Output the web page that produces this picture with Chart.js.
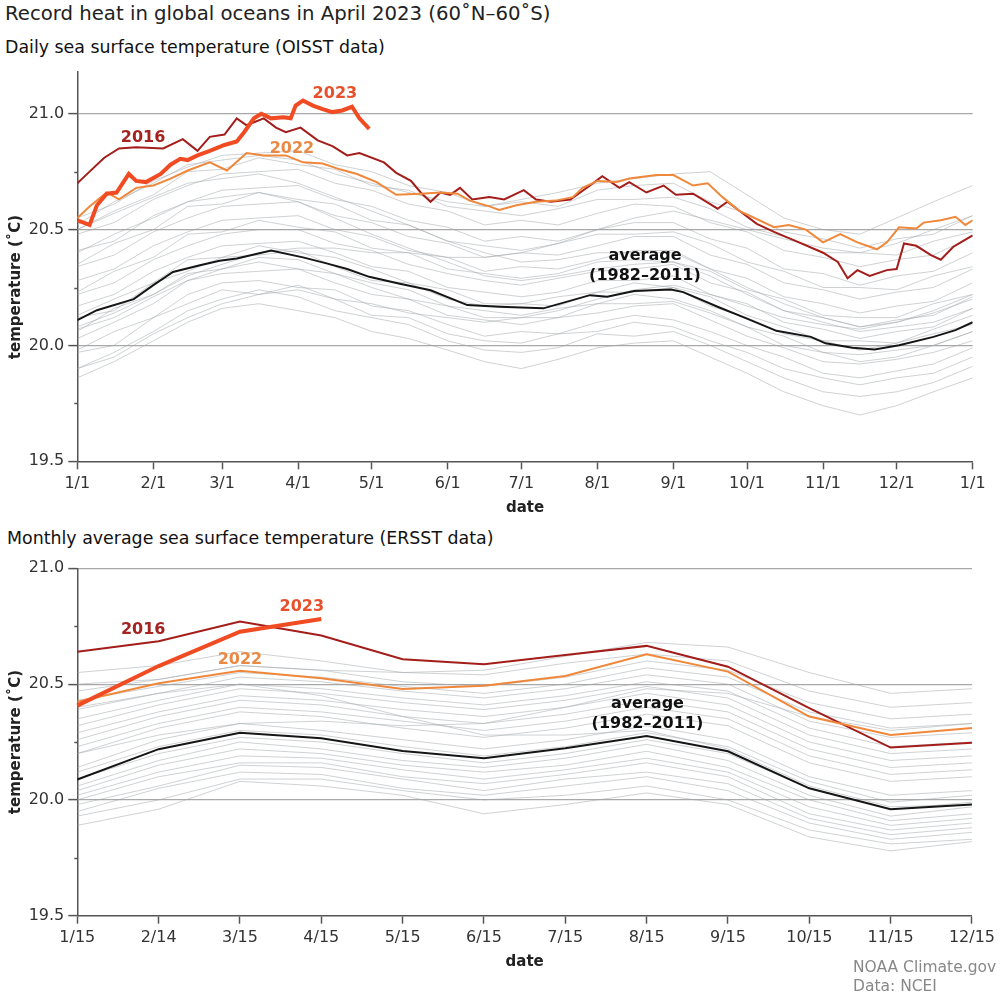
<!DOCTYPE html>
<html>
<head>
<meta charset="utf-8">
<script src="https://cdn.jsdelivr.net/npm/chart.js@4.4.0/dist/chart.umd.min.js"></script>
<style>
  html, body { margin: 0; padding: 0; background: #fff; }
  body { width: 1000px; height: 1000px; position: relative; overflow: hidden;
         font-family: "DejaVu Sans", sans-serif; color: #222; }
  .txt { position: absolute; white-space: nowrap; }
  #title { left: 5px; top: 0; font-size: 19.7px; line-height: 28px; color: #222; }
  .sub { font-size: 17.4px; line-height: 20px; color: #111; }
  #sub1 { left: 5px; top: 37px; }
  #sub2 { left: 7px; top: 528px; }
  .ytitle { font-size: 15px; font-weight: bold; color: #222; transform: translate(-50%, -50%) rotate(-90deg); }
  #ytitle1 { left: 15px; top: 287px; }
  #ytitle2 { left: 15px; top: 742px; }
  .credit { font-size: 15.5px; line-height: 19px; color: #888; left: 853px; }
  #credit1 { top: 958px; }
  #credit2 { top: 977px; }
  canvas { position: absolute; left: 0; }
  #dailyChart { top: 0; }
  #monthlyChart { top: 540px; }
</style>
</head>
<body>
<div class="txt" id="title">Record heat in global oceans in April 2023 (60˚N–60˚S)</div>
<div class="txt sub" id="sub1">Daily sea surface temperature (OISST data)</div>
<div class="txt sub" id="sub2">Monthly average sea surface temperature (ERSST data)</div>
<canvas id="dailyChart" width="1000" height="530"></canvas>
<canvas id="monthlyChart" width="1000" height="445"></canvas>
<div class="txt ytitle" id="ytitle1">temperature (˚C)</div>
<div class="txt ytitle" id="ytitle2">temperature (˚C)</div>
<div class="txt credit" id="credit1">NOAA Climate.gov</div>
<div class="txt credit" id="credit2">Data: NCEI</div>

<script>
/* ===========================================
                  DATA: DAILY (OISST)
=========================================== */
const monthStartDays = [0, 31, 59, 90, 120, 151, 181, 212, 243, 273, 304, 334, 365];
const monthStartLabels = ["1/1", "2/1", "3/1", "4/1", "5/1", "6/1", "7/1", "8/1", "9/1", "10/1", "11/1", "12/1", "1/1"];

const days2016 = [0, 5, 11, 17, 24, 35, 43, 49, 54, 60, 65, 69, 76, 81, 85, 91, 98, 104, 110, 115, 125, 130, 136, 140, 144, 148, 152, 156, 161, 168, 174, 179, 182, 187, 193, 201, 209, 214, 221, 225, 232, 239, 244, 251, 258, 261, 265, 270, 277, 284, 293, 304, 310, 314, 318, 323, 330, 334, 337, 342, 348, 352, 357, 361, 365];
const daily2016 = [20.70, 20.75, 20.81, 20.85, 20.855, 20.85, 20.89, 20.84, 20.90, 20.91, 20.98, 20.95, 20.98, 20.94, 20.92, 20.94, 20.885, 20.86, 20.82, 20.83, 20.79, 20.745, 20.71, 20.66, 20.62, 20.66, 20.65, 20.68, 20.63, 20.64, 20.63, 20.655, 20.67, 20.63, 20.62, 20.63, 20.69, 20.73, 20.68, 20.705, 20.66, 20.69, 20.65, 20.655, 20.61, 20.59, 20.62, 20.58, 20.525, 20.49, 20.45, 20.40, 20.36, 20.29, 20.325, 20.30, 20.325, 20.33, 20.44, 20.43, 20.39, 20.37, 20.425, 20.45, 20.475];

const days2022 = [0, 5, 12, 17, 24, 31, 38, 45, 54, 61, 69, 76, 85, 92, 100, 107, 114, 122, 130, 140, 148, 155, 160, 168, 172, 179, 187, 195, 202, 206, 212, 220, 225, 236, 243, 251, 257, 263, 270, 277, 284, 290, 297, 304, 311, 318, 326, 330, 335, 342, 345, 352, 358, 362, 365];
const daily2022 = [20.55, 20.60, 20.66, 20.63, 20.68, 20.69, 20.72, 20.755, 20.79, 20.755, 20.83, 20.82, 20.82, 20.79, 20.785, 20.76, 20.74, 20.705, 20.65, 20.655, 20.66, 20.655, 20.625, 20.60, 20.585, 20.605, 20.62, 20.625, 20.64, 20.68, 20.71, 20.705, 20.72, 20.735, 20.735, 20.69, 20.70, 20.64, 20.58, 20.545, 20.51, 20.52, 20.50, 20.445, 20.48, 20.445, 20.415, 20.445, 20.51, 20.505, 20.53, 20.54, 20.555, 20.52, 20.54];

const days2023 = [0, 5, 8, 12, 16, 21, 24, 28, 34, 38, 42, 45, 49, 54, 60, 65, 68, 72, 75, 79, 84, 87, 89, 92, 96, 100, 104, 108, 112, 115, 119];
const daily2023 = [20.54, 20.52, 20.605, 20.655, 20.66, 20.74, 20.71, 20.705, 20.74, 20.78, 20.805, 20.80, 20.82, 20.84, 20.865, 20.88, 20.92, 20.98, 21.00, 20.98, 20.985, 20.98, 21.035, 21.057, 21.035, 21.02, 21.007, 21.014, 21.03, 20.98, 20.935];

const daysAverage = [0, 8, 23, 31, 39, 50, 58, 65, 79, 92, 102, 110, 119, 131, 144, 159, 172, 190, 209, 216, 227, 242, 247, 261, 273, 285, 299, 305, 316, 325, 335, 349, 358, 365];
const dailyAverage = [20.109, 20.152, 20.20, 20.26, 20.317, 20.346, 20.365, 20.375, 20.41, 20.38, 20.353, 20.33, 20.296, 20.267, 20.238, 20.174, 20.167, 20.16, 20.217, 20.21, 20.235, 20.241, 20.23, 20.167, 20.116, 20.063, 20.037, 20.009, 19.99, 19.983, 20.001, 20.037, 20.066, 20.10];

// other years (1982-2021), read roughly every half month
const greyDays = [0, 15, 31, 45, 59, 74, 90, 105, 120, 135, 151, 166, 181, 196, 212, 227, 243, 258, 273, 288, 304, 319, 334, 349, 365];
const dailyGreyYears = [
  [19.86, 19.93, 20.02, 20.10, 20.16, 20.18, 20.15, 20.12, 20.06, 20.03, 19.98, 19.93, 19.90, 19.94, 19.99, 20.01, 20.02, 19.95, 19.88, 19.80, 19.74, 19.70, 19.74, 19.80, 19.86],
  [19.90, 19.97, 20.06, 20.15, 20.20, 20.24, 20.21, 20.15, 20.12, 20.09, 20.02, 19.98, 19.97, 19.99, 20.05, 20.04, 20.06, 20.00, 19.93, 19.86, 19.80, 19.78, 19.80, 19.84, 19.91],
  [19.97, 20.00, 20.12, 20.18, 20.24, 20.22, 20.26, 20.20, 20.13, 20.12, 20.05, 20.02, 20.01, 20.05, 20.06, 20.10, 20.08, 20.02, 19.97, 19.90, 19.86, 19.83, 19.86, 19.88, 19.95],
  [19.98, 20.06, 20.12, 20.22, 20.27, 20.28, 20.25, 20.24, 20.17, 20.15, 20.09, 20.04, 20.06, 20.05, 20.10, 20.13, 20.11, 20.06, 20.00, 19.95, 19.88, 19.86, 19.89, 19.92, 19.99],
  [19.90, 19.95, 20.05, 20.12, 20.18, 20.22, 20.24, 20.20, 20.18, 20.14, 20.12, 20.10, 20.12, 20.15, 20.20, 20.24, 20.26, 20.22, 20.17, 20.12, 20.09, 20.07, 20.10, 20.15, 20.22],
  [20.03, 20.10, 20.18, 20.28, 20.31, 20.32, 20.33, 20.27, 20.22, 20.20, 20.13, 20.11, 20.09, 20.12, 20.14, 20.17, 20.18, 20.11, 20.04, 19.99, 19.93, 19.92, 19.94, 19.97, 20.02],
  [20.07, 20.12, 20.21, 20.28, 20.33, 20.36, 20.33, 20.31, 20.25, 20.20, 20.17, 20.12, 20.12, 20.12, 20.18, 20.18, 20.19, 20.14, 20.08, 20.00, 19.97, 19.93, 19.95, 20.00, 20.06],
  [20.06, 20.16, 20.22, 20.31, 20.33, 20.38, 20.37, 20.31, 20.27, 20.24, 20.17, 20.15, 20.13, 20.16, 20.18, 20.22, 20.20, 20.15, 20.08, 20.04, 19.97, 19.96, 19.98, 20.00, 20.06],
  [20.12, 20.15, 20.27, 20.32, 20.38, 20.39, 20.41, 20.34, 20.28, 20.27, 20.20, 20.17, 20.18, 20.17, 20.23, 20.23, 20.25, 20.17, 20.12, 20.05, 20.02, 19.98, 20.01, 20.05, 20.09],
  [20.13, 20.20, 20.27, 20.37, 20.38, 20.43, 20.40, 20.38, 20.33, 20.27, 20.24, 20.18, 20.18, 20.21, 20.23, 20.27, 20.25, 20.21, 20.13, 20.08, 20.02, 20.02, 20.01, 20.07, 20.13],
  [20.17, 20.22, 20.32, 20.38, 20.43, 20.44, 20.45, 20.40, 20.34, 20.32, 20.25, 20.23, 20.21, 20.23, 20.28, 20.28, 20.30, 20.22, 20.18, 20.10, 20.07, 20.03, 20.06, 20.08, 20.16],
  [20.08, 20.14, 20.22, 20.30, 20.35, 20.40, 20.42, 20.42, 20.40, 20.40, 20.38, 20.38, 20.40, 20.44, 20.50, 20.55, 20.58, 20.54, 20.50, 20.46, 20.42, 20.40, 20.44, 20.50, 20.56],
  [20.22, 20.27, 20.37, 20.43, 20.48, 20.50, 20.50, 20.44, 20.41, 20.35, 20.31, 20.28, 20.26, 20.29, 20.32, 20.33, 20.35, 20.27, 20.23, 20.15, 20.12, 20.08, 20.11, 20.13, 20.21],
  [20.23, 20.32, 20.38, 20.48, 20.49, 20.54, 20.51, 20.49, 20.42, 20.40, 20.33, 20.31, 20.29, 20.31, 20.36, 20.37, 20.36, 20.32, 20.24, 20.20, 20.13, 20.12, 20.12, 20.18, 20.22],
  [20.28, 20.33, 20.43, 20.49, 20.54, 20.55, 20.56, 20.50, 20.47, 20.41, 20.38, 20.32, 20.34, 20.33, 20.37, 20.41, 20.41, 20.33, 20.29, 20.21, 20.18, 20.14, 20.17, 20.19, 20.27],
  [20.40, 20.48, 20.55, 20.62, 20.64, 20.66, 20.62, 20.55, 20.48, 20.42, 20.36, 20.30, 20.28, 20.30, 20.33, 20.35, 20.36, 20.30, 20.22, 20.15, 20.10, 20.06, 20.08, 20.10, 20.16],
  [20.34, 20.39, 20.49, 20.55, 20.60, 20.61, 20.62, 20.56, 20.53, 20.47, 20.44, 20.38, 20.40, 20.39, 20.43, 20.47, 20.47, 20.39, 20.35, 20.27, 20.24, 20.20, 20.23, 20.25, 20.33],
  [20.35, 20.44, 20.50, 20.60, 20.61, 20.66, 20.63, 20.61, 20.54, 20.52, 20.45, 20.43, 20.41, 20.44, 20.48, 20.48, 20.49, 20.44, 20.36, 20.32, 20.25, 20.25, 20.24, 20.30, 20.34],
  [20.41, 20.45, 20.56, 20.62, 20.67, 20.68, 20.69, 20.63, 20.60, 20.54, 20.51, 20.45, 20.47, 20.45, 20.50, 20.53, 20.53, 20.46, 20.42, 20.33, 20.31, 20.26, 20.30, 20.32, 20.40],
  [20.50, 20.57, 20.64, 20.70, 20.72, 20.74, 20.70, 20.64, 20.58, 20.52, 20.45, 20.40, 20.36, 20.37, 20.40, 20.40, 20.40, 20.33, 20.25, 20.18, 20.12, 20.08, 20.10, 20.14, 20.20],
  [20.48, 20.53, 20.63, 20.69, 20.74, 20.75, 20.76, 20.70, 20.67, 20.61, 20.58, 20.52, 20.54, 20.52, 20.57, 20.61, 20.60, 20.53, 20.49, 20.41, 20.38, 20.34, 20.37, 20.39, 20.47],
  [20.50, 20.58, 20.65, 20.75, 20.76, 20.81, 20.78, 20.76, 20.69, 20.67, 20.60, 20.58, 20.56, 20.59, 20.63, 20.63, 20.64, 20.59, 20.51, 20.47, 20.40, 20.40, 20.39, 20.45, 20.49],
  [20.55, 20.61, 20.71, 20.77, 20.82, 20.83, 20.84, 20.78, 20.75, 20.69, 20.66, 20.60, 20.62, 20.60, 20.67, 20.69, 20.70, 20.62, 20.57, 20.49, 20.46, 20.42, 20.46, 20.48, 20.56],
  [20.52, 20.62, 20.70, 20.78, 20.80, 20.82, 20.80, 20.74, 20.70, 20.66, 20.62, 20.60, 20.63, 20.66, 20.70, 20.72, 20.74, 20.75, 20.65, 20.55, 20.50, 20.48, 20.55, 20.62, 20.69]
];

/* ===========================================
                DATA: MONTHLY (ERSST)
=========================================== */
const monthLabels = ["1/15", "2/14", "3/15", "4/15", "5/15", "6/15", "7/15", "8/15", "9/15", "10/15", "11/15", "12/15"];
const monthly2016 = [20.64, 20.685, 20.77, 20.71, 20.607, 20.586, 20.626, 20.665, 20.575, 20.396, 20.226, 20.247];
const monthly2022 = [20.424, 20.504, 20.558, 20.525, 20.479, 20.493, 20.535, 20.629, 20.554, 20.36, 20.28, 20.31];
const monthly2023 = [20.407, 20.578, 20.726, 20.781];
const monthlyAverage = [20.088, 20.219, 20.29, 20.266, 20.211, 20.18, 20.223, 20.276, 20.21, 20.05, 19.96, 19.98];

const monthlyGreyYears = [
  [19.89, 19.96, 20.08, 20.06, 20.02, 19.94, 19.98, 20.03, 19.98, 19.84, 19.78, 19.82],
  [19.93, 20.00, 20.09, 20.09, 20.04, 20.00, 20.02, 20.06, 20.00, 19.87, 19.81, 19.83],
  [19.95, 20.05, 20.12, 20.11, 20.05, 20.02, 20.06, 20.10, 20.04, 19.90, 19.83, 19.86],
  [19.98, 20.06, 20.15, 20.14, 20.09, 20.04, 20.09, 20.12, 20.07, 19.92, 19.85, 19.88],
  [20.00, 20.10, 20.16, 20.16, 20.10, 20.07, 20.11, 20.16, 20.10, 19.94, 19.87, 19.90],
  [20.02, 20.12, 20.19, 20.18, 20.13, 20.09, 20.13, 20.18, 20.12, 19.97, 19.89, 19.92],
  [20.04, 20.15, 20.22, 20.20, 20.15, 20.12, 20.15, 20.21, 20.14, 20.00, 19.91, 19.94],
  [20.06, 20.17, 20.25, 20.22, 20.17, 20.14, 20.18, 20.24, 20.17, 20.02, 19.93, 19.97],
  [20.09, 20.20, 20.27, 20.25, 20.20, 20.16, 20.20, 20.26, 20.20, 20.05, 19.96, 19.99],
  [20.12, 20.23, 20.30, 20.28, 20.23, 20.19, 20.23, 20.29, 20.23, 20.08, 19.99, 20.02],
  [20.14, 20.26, 20.33, 20.30, 20.26, 20.22, 20.26, 20.32, 20.26, 20.10, 20.02, 20.04],
  [20.20, 20.28, 20.33, 20.34, 20.32, 20.33, 20.40, 20.48, 20.46, 20.36, 20.30, 20.33],
  [20.20, 20.31, 20.38, 20.36, 20.31, 20.27, 20.31, 20.37, 20.32, 20.16, 20.08, 20.10],
  [20.23, 20.33, 20.40, 20.38, 20.34, 20.30, 20.34, 20.40, 20.35, 20.19, 20.11, 20.13],
  [20.26, 20.36, 20.43, 20.41, 20.36, 20.33, 20.37, 20.43, 20.38, 20.22, 20.14, 20.16],
  [20.29, 20.38, 20.45, 20.43, 20.39, 20.36, 20.40, 20.46, 20.41, 20.25, 20.17, 20.19],
  [20.40, 20.46, 20.50, 20.45, 20.36, 20.28, 20.28, 20.30, 20.22, 20.06, 19.97, 19.98],
  [20.32, 20.41, 20.48, 20.46, 20.42, 20.39, 20.43, 20.49, 20.44, 20.28, 20.20, 20.22],
  [20.35, 20.43, 20.50, 20.48, 20.44, 20.41, 20.45, 20.51, 20.47, 20.31, 20.23, 20.25],
  [20.39, 20.46, 20.53, 20.51, 20.47, 20.44, 20.48, 20.54, 20.50, 20.34, 20.27, 20.29],
  [20.43, 20.49, 20.55, 20.53, 20.49, 20.46, 20.50, 20.57, 20.53, 20.38, 20.31, 20.33],
  [20.47, 20.52, 20.58, 20.56, 20.51, 20.49, 20.53, 20.60, 20.56, 20.42, 20.35, 20.37],
  [20.55, 20.58, 20.64, 20.60, 20.55, 20.54, 20.59, 20.63, 20.60, 20.47, 20.40, 20.42],
  [20.50, 20.52, 20.58, 20.56, 20.55, 20.56, 20.62, 20.68, 20.66, 20.55, 20.46, 20.48]
];

/* ===========================================
                    STYLES
=========================================== */
const FONT = "'DejaVu Sans', sans-serif";
const AXIS_COLOR = "#555";
const GRID_COLOR = "#a8a8a8";
const GREY_LINE = "rgba(160,165,170,0.5)";
const RED_2016 = "#a31d1a";
const ORANGE_2022 = "#f0883c";
const RED_2023 = "#f04b22";
const AVG_COLOR = "#161616";

Chart.defaults.font.family = FONT;
Chart.defaults.color = "#333";

function toPoints(days, vals) {
  return days.map((d, i) => ({ x: d, y: vals[i] }));
}

function line(data, color, width) {
  return {
    data: data,
    borderColor: color,
    borderWidth: width,
    pointRadius: 0,
    tension: 0,
    fill: false
  };
}

function isMajor(v) {
  return Math.abs(v * 2 - Math.round(v * 2)) < 1e-6;
}

// minor ticks (19.75, 20.25, 20.75) are short marks with no label and no gridline
const minorTicks = {
  id: "minorTicks",
  afterDraw(chart) {
    const y = chart.scales.y;
    const ctx = chart.ctx;
    ctx.save();
    ctx.strokeStyle = AXIS_COLOR;
    ctx.lineWidth = 1.5;
    y.ticks.forEach(t => {
      if (isMajor(t.value)) return;
      const py = Math.round(y.getPixelForValue(t.value)) + 0.5;
      ctx.beginPath();
      ctx.moveTo(chart.chartArea.left - 3, py);
      ctx.lineTo(chart.chartArea.left, py);
      ctx.stroke();
    });
    ctx.restore();
  }
};

function labelPlugin(items) {
  return {
    id: "seriesLabels",
    afterDatasetsDraw(chart) {
      const ctx = chart.ctx;
      ctx.save();
      ctx.textAlign = "center";
      ctx.textBaseline = "middle";
      ctx.font = "bold 16px " + FONT;
      items.forEach(it => {
        ctx.fillStyle = it.color;
        ctx.fillText(it.text, chart.scales.x.getPixelForValue(it.x), chart.scales.y.getPixelForValue(it.y));
      });
      ctx.restore();
    }
  };
}

function yScale(max) {
  return {
    min: 19.5,
    max: max,
    afterBuildTicks: s => { s.ticks = [19.5, 19.75, 20, 20.25, 20.5, 20.75, 21].map(v => ({ value: v })); },
    afterFit: s => { s.width = 77.3; },
    ticks: {
      font: { size: 16 },
      color: "#333",
      padding: 4,
      callback: v => (isMajor(v) ? v.toFixed(1) : "")
    },
    grid: {
      color: c => (c.tick && isMajor(c.tick.value) && c.tick.value > 19.6 ? GRID_COLOR : "transparent"),
      tickColor: c => (c.tick && isMajor(c.tick.value) ? AXIS_COLOR : "transparent"),
      tickLength: 9,
      lineWidth: 1.2,
      tickWidth: 1.5
    },
    border: { color: AXIS_COLOR, width: 1.5 }
  };
}

function xGrid() {
  return {
    drawOnChartArea: false,
    tickLength: 8,
    tickColor: AXIS_COLOR,
    tickWidth: 1.5
  };
}

/* ===========================================
              DAILY CHART (TOP)
=========================================== */
function renderDaily() {
  const datasets = [
    line(toPoints(days2023, daily2023), RED_2023, 4),
    line(toPoints(days2022, daily2022), ORANGE_2022, 2),
    line(toPoints(days2016, daily2016), RED_2016, 2),
    line(toPoints(daysAverage, dailyAverage), AVG_COLOR, 2)
  ];
  dailyGreyYears.forEach(vals => datasets.push(line(toPoints(greyDays, vals), GREY_LINE, 1)));

  new Chart(document.getElementById("dailyChart"), {
    type: "line",
    data: { datasets },
    options: {
      responsive: false,
      animation: false,
      layout: { padding: { top: 72, right: 27.3, bottom: 0, left: 0 } },
      plugins: { legend: { display: false }, tooltip: { enabled: false } },
      scales: {
        x: {
          type: "linear",
          min: 0,
          max: 365,
          afterBuildTicks: s => { s.ticks = monthStartDays.map(v => ({ value: v })); },
          afterFit: s => { s.height = 68.7; },
          ticks: {
            autoSkip: false,
            maxRotation: 0,
            font: { size: 16 },
            color: "#333",
            padding: 5,
            callback: (v, i) => monthStartLabels[i]
          },
          grid: xGrid(),
          border: { color: AXIS_COLOR, width: 1.5 },
          title: { display: true, text: "date", font: { size: 15, weight: "bold" }, color: "#222", padding: { top: 0, bottom: 13 } }
        },
        y: yScale(21.18)
      }
    },
    plugins: [minorTicks, labelPlugin([
      { text: "2016", x: 26.8, y: 20.898, color: "#a5231f" },
      { text: "2023", x: 105, y: 21.085, color: "#e8502b" },
      { text: "2022", x: 87.5, y: 20.85, color: "#e88a46" },
      { text: "average", x: 231.4, y: 20.385, color: "#111" },
      { text: "(1982–2011)", x: 231.4, y: 20.30, color: "#111" }
    ])]
  });
}

/* ===========================================
              MONTHLY CHART (BOTTOM)
=========================================== */
function renderMonthly() {
  const datasets = [
    line(monthly2023, RED_2023, 4),
    line(monthly2022, ORANGE_2022, 2),
    line(monthly2016, RED_2016, 2),
    line(monthlyAverage, AVG_COLOR, 2)
  ];
  monthlyGreyYears.forEach(vals => datasets.push(line(vals, GREY_LINE, 1)));

  new Chart(document.getElementById("monthlyChart"), {
    type: "line",
    data: { labels: monthLabels, datasets },
    options: {
      responsive: false,
      animation: false,
      layout: { padding: { top: 28.3, right: 27.3, bottom: 0, left: 0 } },
      plugins: { legend: { display: false }, tooltip: { enabled: false } },
      scales: {
        x: {
          type: "category",
          offset: false,
          afterFit: s => { s.height = 69.3; },
          ticks: { autoSkip: false, maxRotation: 0, font: { size: 16 }, color: "#333", padding: 5 },
          grid: xGrid(),
          border: { color: AXIS_COLOR, width: 1.5 },
          title: { display: true, text: "date", font: { size: 15, weight: "bold" }, color: "#222", padding: { top: 0, bottom: 14 } }
        },
        y: yScale(21.0)
      }
    },
    plugins: [minorTicks, labelPlugin([
      { text: "2016", x: 0.81, y: 20.734, color: "#a5231f" },
      { text: "2023", x: 2.76, y: 20.833, color: "#e8502b" },
      { text: "2022", x: 2.0, y: 20.604, color: "#e88a46" },
      { text: "average", x: 7.01, y: 20.414, color: "#111" },
      { text: "(1982–2011)", x: 7.01, y: 20.328, color: "#111" }
    ])]
  });
}

renderDaily();
renderMonthly();
</script>
</body>
</html>
